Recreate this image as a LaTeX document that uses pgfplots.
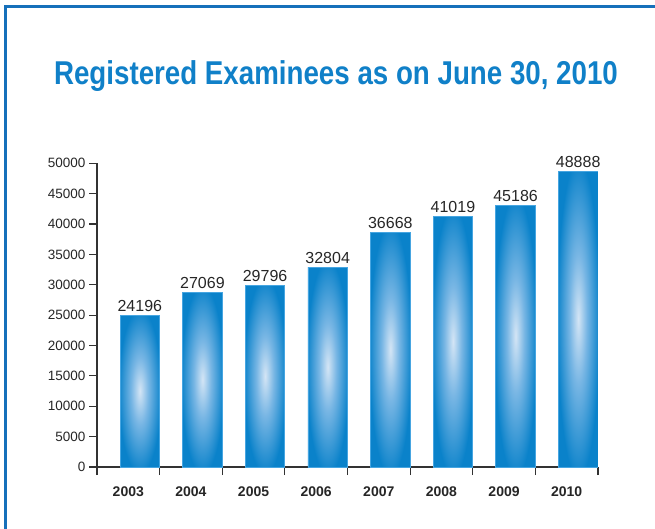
\documentclass[border=0pt]{standalone}
\usepackage{pgfplots}
\pgfplotsset{compat=1.18}
\usepackage{fontspec}
\setmainfont{Liberation Sans}
\usepackage{graphicx}
\definecolor{frameblue}{RGB}{22,112,186}
\definecolor{titleblue}{RGB}{16,128,200}
\definecolor{barblue}{RGB}{10,130,202}
\definecolor{barlight}{RGB}{212,229,245}
\definecolor{barmid}{RGB}{120,182,228}
\definecolor{baredge}{RGB}{70,165,225}
\definecolor{axisgray}{RGB}{50,50,50}
\pgfdeclareradialshading{barglow}{\pgfpoint{0bp}{0bp}}{color(0bp)=(barlight); color(11bp)=(barmid); color(27bp)=(barblue); color(50bp)=(barblue)}

\begin{document}
\begin{tikzpicture}[x=1pt,y=1pt]
\path[use as bounding box] (0,0) rectangle (655,-529);
\draw[frameblue, line width=3pt] (5.5,-529) -- (5.5,-6.5) -- (655,-6.5);
\node[titleblue, font=\bfseries\fontsize{33}{38}\selectfont] at (336,-76)
  {\scalebox{0.84}[1]{Registered Examinees as on June 30, 2010}};
\begin{axis}[
  at={(97pt,-467pt)}, anchor=south west,
  scale only axis, width=501pt, height=303.7pt,
  xmin=-0.5, xmax=7.5, ymin=0, ymax=50000,
  axis x line*=bottom, axis y line*=left,
  axis line style={axisgray, line width=1.1pt},
  xtick={-0.5,0.5,...,7.5}, x tick label as interval,
  xticklabels={2003,2004,2005,2006,2007,2008,2009,2010},
  ytick={0,5000,...,50000},
  tick align=outside, major tick length=8pt,
  tick style={axisgray, line width=1.1pt},
  scaled y ticks=false,
  /pgf/number format/1000 sep={},
  /pgf/number format/assume math mode=true,
  yticklabel style={font=\fontsize{13.5}{15}\selectfont, text=black!85},
  xticklabel style={font=\bfseries\fontsize{14}{16}\selectfont, text=black!85, yshift=-8pt},
  no markers,
  nodes near coords, point meta=explicit,
  nodes near coords style={font=\fontsize{16}{18}\selectfont, text=black!85, anchor=south, xshift=11.5pt},
  mybar/.style={ybar, bar width=39.5pt, bar shift=11.5pt, draw=baredge, line width=0.8pt, shade, shading=barglow},
]
% bar heights as drawn in the picture, labels as printed
\addplot[mybar] coordinates {(0,25025) [24196]};
\addplot[mybar] coordinates {(1,28811) [27069]};
\addplot[mybar] coordinates {(2,29914) [29796]};
\addplot[mybar] coordinates {(3,32878) [32804]};
\addplot[mybar] coordinates {(4,38640) [36668]};
\addplot[mybar] coordinates {(5,41324) [41019]};
\addplot[mybar] coordinates {(6,43085) [45186]};
\addplot[mybar] coordinates {(7,48732) [48888]};
\end{axis}
\end{tikzpicture}
\end{document}
